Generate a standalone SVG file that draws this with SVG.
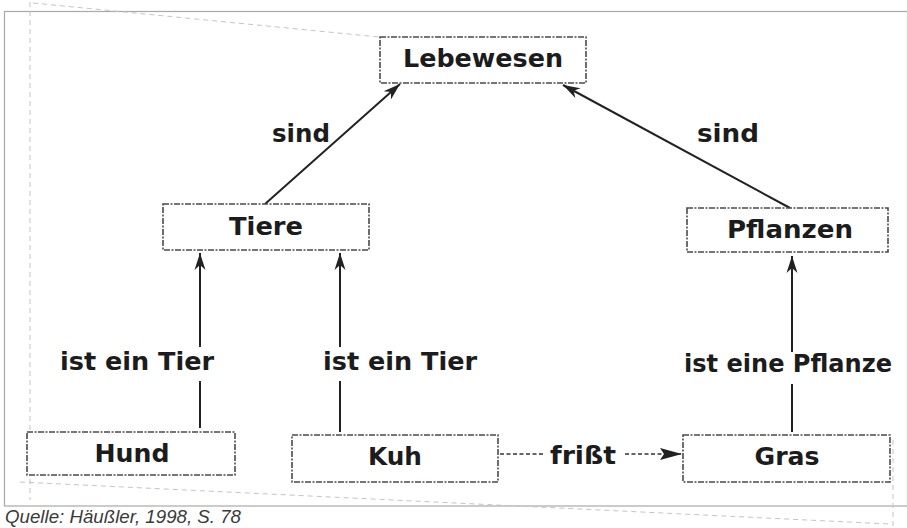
<svg xmlns="http://www.w3.org/2000/svg" width="907" height="528" viewBox="0 0 907 528">
  <style>
    .box { fill: #ffffff; stroke: #4a4a4a; stroke-width: 1.6; stroke-dasharray: 6 1.5 2 1.5; }
    .node-text { font-family: "DejaVu Sans", "Liberation Sans", sans-serif; font-weight: bold; font-size: 25px; fill: #1c1c1c; text-anchor: middle; }
    .label { font-family: "DejaVu Sans", "Liberation Sans", sans-serif; font-weight: bold; font-size: 24px; fill: #1c1c1c; text-anchor: middle; }
    .edge { stroke: #222222; stroke-width: 2; fill: none; }
    .edge-dashed { stroke: #333333; stroke-width: 1.6; fill: none; stroke-dasharray: 4 2.5; }
    .scan { stroke: #c4c4c4; stroke-width: 1; fill: none; stroke-dasharray: 5 4; }
    .caption { font-family: "Liberation Sans", Arial, sans-serif; font-style: italic; font-size: 18px; fill: #3a3a3a; }
  </style>
  <defs>
    <marker id="arrow" viewBox="-18 -7 20 14" refX="0" refY="0" markerWidth="20" markerHeight="14" markerUnits="userSpaceOnUse" orient="auto">
      <path d="M0,0 L-17,-5.5 L-12,0 L-17,5.5 Z" fill="#222222"/>
    </marker>
    <marker id="arrow-solid" viewBox="-24 -8 26 16" refX="0" refY="0" markerWidth="26" markerHeight="16" markerUnits="userSpaceOnUse" orient="auto">
      <path d="M0,0 L-22,-6 L-18,0 L-22,6 Z" fill="#222222"/>
    </marker>
  </defs>

  <!-- page background and frame -->
  <rect x="0" y="0" width="907" height="528" fill="#ffffff"/>
  <rect x="4.5" y="11.5" width="903" height="494.5" fill="none" stroke="#a8a8a8" stroke-width="1.2"/>

  <!-- faint guide lines in the paper -->
  <g id="paper-marks">
    <line class="scan" x1="33" y1="3" x2="440" y2="43"/>
    <line class="scan" x1="30" y1="2" x2="30" y2="500"/>
    <line class="scan" x1="20" y1="482" x2="890" y2="524"/>
    <line class="scan" x1="893" y1="440" x2="893" y2="528"/>
  </g>

  <!-- connectors -->
  <g id="connectors">
    <line class="edge" x1="265" y1="204" x2="400" y2="84" marker-end="url(#arrow)"/>
    <line class="edge" x1="790" y1="208" x2="563" y2="85" marker-end="url(#arrow)"/>

    <line class="edge" x1="200" y1="347" x2="200" y2="253" marker-end="url(#arrow)"/>
    <line class="edge" x1="200" y1="381" x2="200" y2="428"/>

    <line class="edge" x1="340" y1="347" x2="340" y2="253" marker-end="url(#arrow)"/>
    <line class="edge" x1="340" y1="381" x2="340" y2="432"/>

    <line class="edge" x1="792" y1="352" x2="792" y2="256" marker-end="url(#arrow)"/>
    <line class="edge" x1="792" y1="384" x2="792" y2="432"/>

    <line class="edge-dashed" x1="500" y1="454" x2="545" y2="454"/>
    <line class="edge-dashed" x1="625" y1="454" x2="682" y2="454" marker-end="url(#arrow-solid)"/>

    <text class="label" x="301" y="142" textLength="58" lengthAdjust="spacingAndGlyphs">sind</text>
    <text class="label" x="728" y="142" textLength="62" lengthAdjust="spacingAndGlyphs">sind</text>
    <text class="label" x="137" y="370" textLength="154" lengthAdjust="spacingAndGlyphs">ist ein Tier</text>
    <text class="label" x="400" y="370" textLength="154" lengthAdjust="spacingAndGlyphs">ist ein Tier</text>
    <text class="label" x="788" y="372" textLength="208" lengthAdjust="spacingAndGlyphs">ist eine Pflanze</text>
    <text class="label" x="583" y="464" textLength="66" lengthAdjust="spacingAndGlyphs">frißt</text>
  </g>

  <!-- nodes -->
  <g id="node-lebewesen">
    <rect class="box" x="380" y="37" width="206" height="46"/>
    <text class="node-text" x="483" y="67" textLength="160" lengthAdjust="spacingAndGlyphs">Lebewesen</text>
  </g>
  <g id="node-tiere">
    <rect class="box" x="163" y="204" width="206" height="46"/>
    <text class="node-text" x="266" y="235" textLength="74" lengthAdjust="spacingAndGlyphs">Tiere</text>
  </g>
  <g id="node-pflanzen">
    <rect class="box" x="687" y="208" width="201" height="44"/>
    <text class="node-text" x="790" y="238" textLength="126" lengthAdjust="spacingAndGlyphs">Pflanzen</text>
  </g>
  <g id="node-hund">
    <rect class="box" x="27" y="432" width="208" height="43"/>
    <text class="node-text" x="132" y="462" textLength="75" lengthAdjust="spacingAndGlyphs">Hund</text>
  </g>
  <g id="node-kuh">
    <rect class="box" x="292" y="435" width="206" height="47"/>
    <text class="node-text" x="395" y="465" textLength="54" lengthAdjust="spacingAndGlyphs">Kuh</text>
  </g>
  <g id="node-gras">
    <rect class="box" x="683" y="435" width="207" height="47"/>
    <text class="node-text" x="787" y="465" textLength="65" lengthAdjust="spacingAndGlyphs">Gras</text>
  </g>

  <!-- source line under the frame -->
  <text class="caption" x="5" y="523" textLength="236" lengthAdjust="spacingAndGlyphs">Quelle: Häußler, 1998, S. 78</text>
</svg>
